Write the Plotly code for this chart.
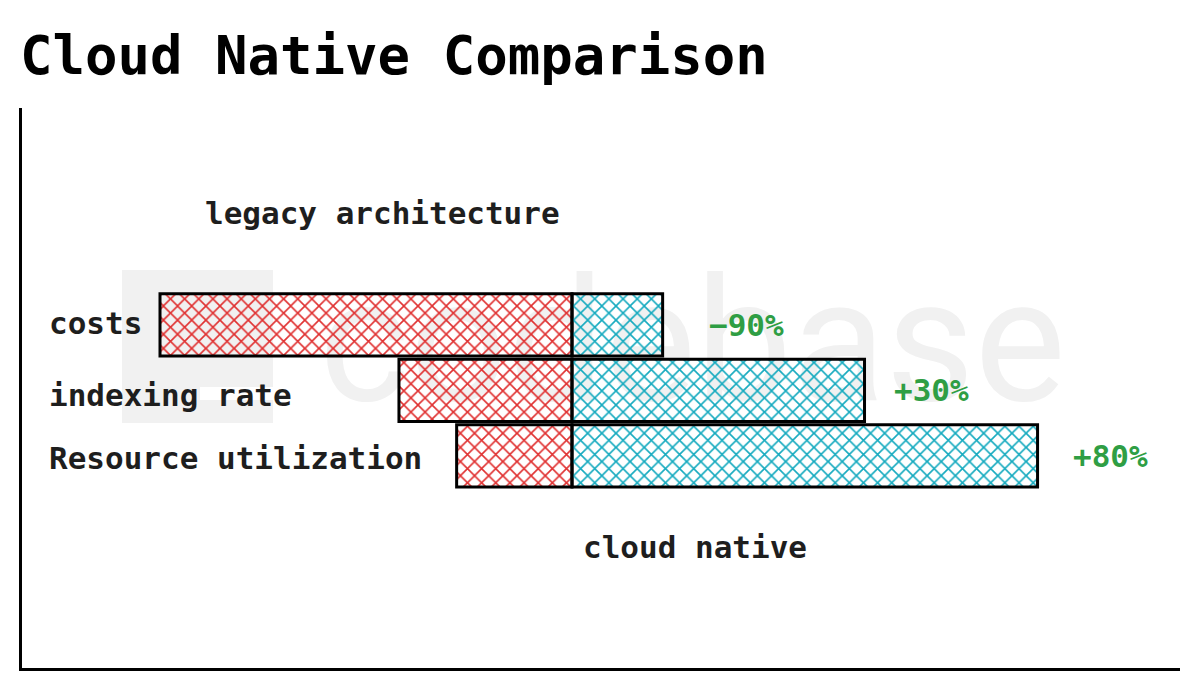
import plotly.graph_objects as go

# ---- data ----
categories = ["costs", "indexing rate", "Resource utilization"]
legacy_values = [100, 42, 28]       # legacy architecture (drawn to the left)
cloud_values = [22, 71, 113]        # cloud native (drawn to the right)
change_labels = ["−90%", "+30%", "+80%"]
title_text = "Cloud Native Comparison"
legacy_label = "legacy architecture"
cloud_label = "cloud native"
watermark_text = "codebase"

# ---- style ----
MONO = "DejaVu Sans Mono"
RED = "#e03131"
TEAL = "#15aabf"
GREEN = "#2f9e44"
INK = "#1e1e1e"
change_xshifts = [44, 27, 33]
label_yshifts = [2, -5, -2]

fig = go.Figure()

fig.add_trace(go.Bar(
    y=categories, x=[-v for v in legacy_values], orientation="h",
    width=0.95, name="legacy",
    marker=dict(color="rgba(255,255,255,0)",
                line=dict(color="#000000", width=3),
                pattern=dict(shape="x", fgcolor=RED, size=10, solidity=0.3,
                             fillmode="replace")),
    hoverinfo="skip", showlegend=False,
))
fig.add_trace(go.Bar(
    y=categories, x=cloud_values, orientation="h",
    width=0.95, name="cloud native",
    marker=dict(color="rgba(255,255,255,0)",
                line=dict(color="#000000", width=3),
                pattern=dict(shape="x", fgcolor=TEAL, size=10, solidity=0.3,
                             fillmode="replace")),
    hoverinfo="skip", showlegend=False,
))

annotations = []
# category labels on the left
for cat, ys in zip(categories, label_yshifts):
    annotations.append(dict(
        x=0.022, xref="paper", y=cat, yref="y", xanchor="left", yanchor="middle",
        yshift=ys, text="<b>%s</b>" % cat, showarrow=False,
        font=dict(family=MONO, size=31, color=INK)))
# change labels
for cat, val, lab, xs in zip(categories, cloud_values, change_labels, change_xshifts):
    annotations.append(dict(
        x=val, xref="x", y=cat, yref="y", xanchor="left", yanchor="middle",
        xshift=xs, text="<b>%s</b>" % lab, showarrow=False,
        font=dict(family=MONO, size=31, color=GREEN)))

def px_x(p):
    return (p - 22) / 1158

def px_y(p):
    return (668 - p) / 560

# group labels
annotations.append(dict(
    x=px_x(382), xref="paper", y=px_y(213), yref="paper",
    xanchor="center", yanchor="middle", text="<b>%s</b>" % legacy_label, showarrow=False,
    font=dict(family=MONO, size=31, color=INK)))
annotations.append(dict(
    x=px_x(695), xref="paper", y=px_y(547), yref="paper",
    xanchor="center", yanchor="middle", text="<b>%s</b>" % cloud_label, showarrow=False,
    font=dict(family=MONO, size=31, color=INK)))

shapes = [
    # faint watermark logo block
    dict(type="rect", xref="paper", yref="paper", layer="below",
         x0=px_x(122), x1=px_x(273), y0=px_y(423), y1=px_y(270),
         fillcolor="#f1f1f1", line=dict(width=0)),
    dict(type="rect", xref="paper", yref="paper", layer="below",
         x0=px_x(200), x1=px_x(274), y0=px_y(400), y1=px_y(387),
         fillcolor="#ffffff", line=dict(width=0)),
    # faint watermark word
    dict(type="rect", xref="paper", yref="paper", layer="below",
         x0=px_x(300), x1=px_x(1085), y0=px_y(426), y1=px_y(232),
         fillcolor="rgba(0,0,0,0)", line=dict(width=0),
         label=dict(text=watermark_text, textposition="middle center",
                    font=dict(family="Roboto", size=172, color="#f1f1f1"))),
]

fig.update_layout(
    width=1202, height=693,
    margin=dict(l=14, r=30, t=100, b=33),
    paper_bgcolor="#ffffff", plot_bgcolor="rgba(0,0,0,0)",
    barmode="overlay",
    title=dict(text="<b>%s</b>" % title_text, x=12 / 1202, xref="container",
               xanchor="left", y=1 - 47 / 693, yref="container", yanchor="middle",
               font=dict(family=MONO, size=54, color="#000000")),
    xaxis=dict(range=[(22 - 572) / 4.12, (1180 - 572) / 4.12],
               showgrid=False, zeroline=False, showticklabels=False, ticks="",
               showline=True, linecolor="#000000", linewidth=2.5, fixedrange=True),
    yaxis=dict(type="category", categoryarray=categories,
               range=[5.24, -3.31],
               showgrid=False, zeroline=False, showticklabels=False, ticks="",
               showline=True, linecolor="#000000", linewidth=2.5, fixedrange=True),
    annotations=annotations,
    shapes=shapes,
)

fig.write_html("out.html")
